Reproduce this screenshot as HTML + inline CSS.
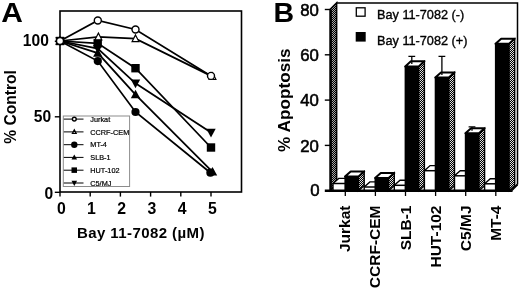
<!DOCTYPE html>
<html><head><meta charset="utf-8"><title>Figure</title>
<style>
html,body{margin:0;padding:0;background:#fff;}
body{width:520px;height:293px;overflow:hidden;}
svg{display:block;font-family:"Liberation Sans",sans-serif;}
.b{font-weight:bold;}
</style></head><body>
<svg width="520" height="293" viewBox="0 0 520 293">
<defs>
<pattern id="dz" width="2" height="2" patternUnits="userSpaceOnUse">
<rect width="2" height="2" fill="#000"/><rect x="0" y="0" width="1" height="1" fill="#e0e0e0"/><rect x="1" y="1" width="1" height="1" fill="#e0e0e0"/>
</pattern>
<pattern id="dw" width="2" height="2" patternUnits="userSpaceOnUse">
<rect width="2" height="2" fill="#000"/><rect x="0" y="0" width="1" height="1" fill="#a8a8a8"/><rect x="1" y="1" width="1" height="1" fill="#a8a8a8"/>
</pattern>
</defs>
<rect width="520" height="293" fill="#fff"/>

<g id="panelA">
<text class="b" transform="translate(1.3,22.2) scale(1.07,1)" font-size="28">A</text>
<rect x="60" y="11" width="181.5" height="181" fill="none" stroke="#000" stroke-width="1.6"/>
<line x1="54.8" x2="60" y1="192.3" y2="192.3" stroke="#000" stroke-width="1.4"/>
<text class="b" x="53.1" y="198.5" font-size="15.6" text-anchor="end">0</text>
<line x1="54.8" x2="60" y1="116.8" y2="116.8" stroke="#000" stroke-width="1.4"/>
<text class="b" x="51.2" y="121.6" font-size="15.6" text-anchor="end">50</text>
<line x1="54.8" x2="60" y1="41.3" y2="41.3" stroke="#000" stroke-width="1.4"/>
<text class="b" x="48.9" y="45.6" font-size="15.6" text-anchor="end">100</text>
<line x1="60.0" x2="60.0" y1="192" y2="196.6" stroke="#000" stroke-width="1.4"/>
<text class="b" x="61.3" y="213.8" font-size="15.8" text-anchor="middle">0</text>
<line x1="90.2" x2="90.2" y1="192" y2="196.6" stroke="#000" stroke-width="1.4"/>
<text class="b" x="91.5" y="213.8" font-size="15.8" text-anchor="middle">1</text>
<line x1="120.4" x2="120.4" y1="192" y2="196.6" stroke="#000" stroke-width="1.4"/>
<text class="b" x="121.7" y="213.8" font-size="15.8" text-anchor="middle">2</text>
<line x1="150.6" x2="150.6" y1="192" y2="196.6" stroke="#000" stroke-width="1.4"/>
<text class="b" x="151.9" y="213.8" font-size="15.8" text-anchor="middle">3</text>
<line x1="180.8" x2="180.8" y1="192" y2="196.6" stroke="#000" stroke-width="1.4"/>
<text class="b" x="182.1" y="213.8" font-size="15.8" text-anchor="middle">4</text>
<line x1="211.0" x2="211.0" y1="192" y2="196.6" stroke="#000" stroke-width="1.4"/>
<text class="b" x="212.3" y="213.8" font-size="15.8" text-anchor="middle">5</text>
<text class="b" x="77" y="237.9" font-size="15" textLength="127.5">Bay 11-7082 (µM)</text>
<text class="b" transform="translate(15.5,107) rotate(-90)" font-size="15.6" text-anchor="middle">% Control</text>
<path d="M60.0 41.0L97.8 20.5L135.5 29.5L211.0 75.9" fill="none" stroke="#000" stroke-width="1.75"/>
<path d="M60.0 41.0L98.4 36.9L135.5 38.7L212.5 76.6" fill="none" stroke="#000" stroke-width="1.75"/>
<path d="M60.0 41.0L97.8 61.1L135.5 112.0L210.4 172.7" fill="none" stroke="#000" stroke-width="1.75"/>
<path d="M60.0 41.0L97.8 53.1L135.5 94.6L212.5 171.8" fill="none" stroke="#000" stroke-width="1.75"/>
<path d="M60.0 41.0L97.8 43.3L135.5 68.2L211.0 147.5" fill="none" stroke="#000" stroke-width="1.75"/>
<path d="M60.0 41.0L97.8 48.6L135.5 83.3L211.0 132.5" fill="none" stroke="#000" stroke-width="1.75"/>
<circle cx="60.0" cy="41.0" r="4.1" fill="#000"/>
<circle cx="97.8" cy="61.1" r="4.1" fill="#000"/>
<circle cx="135.5" cy="112.0" r="4.1" fill="#000"/>
<circle cx="210.4" cy="172.7" r="4.1" fill="#000"/>
<path d="M60.0 36.1L64.7 44.7H55.3Z" fill="#000"/>
<path d="M97.8 48.2L102.4 56.8H93.1Z" fill="#000"/>
<path d="M135.5 89.7L140.2 98.3H130.8Z" fill="#000"/>
<path d="M212.5 166.9L217.2 175.4H207.9Z" fill="#000"/>
<path d="M60.0 45.9L64.7 37.3H55.3Z" fill="#000"/>
<path d="M97.8 53.5L102.4 44.9H93.1Z" fill="#000"/>
<path d="M135.5 88.2L140.2 79.6H130.8Z" fill="#000"/>
<path d="M211.0 137.4L215.7 128.8H206.3Z" fill="#000"/>
<rect x="55.8" y="36.8" width="8.4" height="8.4" fill="#000"/>
<rect x="93.5" y="39.1" width="8.4" height="8.4" fill="#000"/>
<rect x="131.3" y="64.0" width="8.4" height="8.4" fill="#000"/>
<rect x="206.8" y="143.3" width="8.4" height="8.4" fill="#000"/>
<path d="M60.0 37.2L63.4 43.9H56.6Z" fill="#fff" stroke="#000" stroke-width="1.2"/>
<path d="M98.4 33.1L101.8 39.8H94.9Z" fill="#fff" stroke="#000" stroke-width="1.2"/>
<path d="M135.5 34.9L138.9 41.6H132.1Z" fill="#fff" stroke="#000" stroke-width="1.2"/>
<path d="M212.5 72.8L215.9 79.5H209.1Z" fill="#fff" stroke="#000" stroke-width="1.2"/>
<circle cx="60.0" cy="41.0" r="3.5" fill="#fff" stroke="#000" stroke-width="1.4"/>
<circle cx="97.8" cy="20.5" r="3.5" fill="#fff" stroke="#000" stroke-width="1.4"/>
<circle cx="135.5" cy="29.5" r="3.5" fill="#fff" stroke="#000" stroke-width="1.4"/>
<circle cx="211.0" cy="75.9" r="3.5" fill="#fff" stroke="#000" stroke-width="1.4"/>
<rect x="63.3" y="116" width="66.3" height="70.5" fill="#fff" stroke="#8c8c8c" stroke-width="1"/>
<line x1="63.8" x2="83.5" y1="119.1" y2="119.1" stroke="#000" stroke-width="1"/>
<circle cx="74.3" cy="119.1" r="1.9" fill="#fff" stroke="#000" stroke-width="1.4"/>
<text x="90.3" y="121.8" font-size="7.3" stroke="#000" stroke-width="0.2">Jurkat</text>
<line x1="63.8" x2="83.5" y1="131.9" y2="131.9" stroke="#000" stroke-width="1"/>
<path d="M74.3 129.8L76.2 133.4H72.4Z" fill="#fff" stroke="#000" stroke-width="1.2"/>
<text x="90.3" y="134.6" font-size="7.3" stroke="#000" stroke-width="0.2">CCRF-CEM</text>
<line x1="63.8" x2="83.5" y1="144.7" y2="144.7" stroke="#000" stroke-width="1"/>
<circle cx="74.3" cy="144.7" r="3.2" fill="#000"/>
<text x="90.3" y="147.4" font-size="7.3" stroke="#000" stroke-width="0.2">MT-4</text>
<line x1="63.8" x2="83.5" y1="157.4" y2="157.4" stroke="#000" stroke-width="1"/>
<path d="M74.3 154.5L77.1 159.6H71.5Z" fill="#000"/>
<text x="90.3" y="160.1" font-size="7.3" stroke="#000" stroke-width="0.2">SLB-1</text>
<line x1="63.8" x2="83.5" y1="170.2" y2="170.2" stroke="#000" stroke-width="1"/>
<rect x="71.5" y="167.4" width="5.5" height="5.5" fill="#000"/>
<text x="90.3" y="172.9" font-size="7.3" stroke="#000" stroke-width="0.2">HUT-102</text>
<line x1="63.8" x2="83.5" y1="183.0" y2="183.0" stroke="#000" stroke-width="1"/>
<path d="M74.3 185.9L77.1 180.8H71.5Z" fill="#000"/>
<text x="90.3" y="185.7" font-size="7.3" stroke="#000" stroke-width="0.2">C5/MJ</text>
</g>
<g id="panelB">
<text class="b" x="273.5" y="21.6" font-size="28.5">B</text>
<path d="M330.2 9.3L336.6 3V184.5L330.2 190.5Z" fill="url(#dw)" stroke="#000" stroke-width="1.6"/>
<line x1="330.8" x2="330.8" y1="9.5" y2="190" stroke="#000" stroke-width="2.2"/>
<path d="M336.6 3H517.5V184.5" fill="none" stroke="#000" stroke-width="1.5"/>
<path d="M517.5 184.5L511.5 190.5" fill="none" stroke="#000" stroke-width="1.5"/>
<text x="319.6" y="196.4" font-size="16.8" text-anchor="end" stroke="#000" stroke-width="0.55">0</text>
<line x1="324.8" x2="330" y1="145.4" y2="145.4" stroke="#000" stroke-width="1.4"/>
<text x="318.8" y="151.5" font-size="16.8" text-anchor="end" stroke="#000" stroke-width="0.55">20</text>
<line x1="324.8" x2="330" y1="100.1" y2="100.1" stroke="#000" stroke-width="1.4"/>
<text x="318.8" y="106.2" font-size="16.8" text-anchor="end" stroke="#000" stroke-width="0.55">40</text>
<line x1="324.8" x2="330" y1="54.8" y2="54.8" stroke="#000" stroke-width="1.4"/>
<text x="318.8" y="60.9" font-size="16.8" text-anchor="end" stroke="#000" stroke-width="0.55">60</text>
<line x1="324.8" x2="330" y1="9.5" y2="9.5" stroke="#000" stroke-width="1.4"/>
<text x="318.8" y="15.6" font-size="16.8" text-anchor="end" stroke="#000" stroke-width="0.55">80</text>
<text class="b" transform="translate(290,100.2) rotate(-90)" font-size="17.2" text-anchor="middle">% Apoptosis</text>
<rect x="356.3" y="7.8" width="8.8" height="8.4" fill="#fff" stroke="#000" stroke-width="1.3"/>
<rect x="355.7" y="32" width="10" height="9.6" fill="#000"/>
<text x="377" y="19.3" font-size="12.7" stroke="#000" stroke-width="0.35">Bay 11-7082 (-)</text>
<text x="377" y="44.5" font-size="12.7" stroke="#000" stroke-width="0.35">Bay 11-7082 (+)</text>
<path d="M333.0 183.5L338.7 178.4H350.7V185.6L345.0 190.7H333.0Z" fill="#fff" stroke="#000" stroke-width="1.4"/>
<path d="M333.0 183.5H345.0" fill="none" stroke="#000" stroke-width="1.5"/>
<path d="M358.5 176.6L364.2 171.5V185.6L358.5 190.7Z" fill="url(#dz)" stroke="#000" stroke-width="1.4"/>
<path d="M345.0 176.6L350.7 171.5H364.2L358.5 176.6Z" fill="#fff" stroke="#000" stroke-width="2" stroke-linejoin="round"/>
<rect x="344.4" y="176.3" width="14.4" height="14.4" fill="#000"/>
<line x1="345.3" x2="345.3" y1="190.7" y2="196" stroke="#000" stroke-width="1.3"/>
<text class="b" transform="translate(350.3,205.5) rotate(-90)" font-size="15.5" text-anchor="end">Jurkat</text>
<path d="M364.2 187.0L369.9 181.9H380.8V185.6L375.1 190.7H364.2Z" fill="#fff" stroke="#000" stroke-width="1.4"/>
<path d="M364.2 187.0H375.1" fill="none" stroke="#000" stroke-width="1.5"/>
<path d="M388.6 178.0L394.3 172.9V185.6L388.6 190.7Z" fill="url(#dz)" stroke="#000" stroke-width="1.4"/>
<path d="M375.1 178.0L380.8 172.9H394.3L388.6 178.0Z" fill="#fff" stroke="#000" stroke-width="2" stroke-linejoin="round"/>
<rect x="374.5" y="177.7" width="14.4" height="13.0" fill="#000"/>
<line x1="375.4" x2="375.4" y1="190.7" y2="196" stroke="#000" stroke-width="1.3"/>
<text class="b" transform="translate(380.4,205.5) rotate(-90)" font-size="15.5" text-anchor="end">CCRF-CEM</text>
<path d="M394.3 185.3L400.0 180.2H410.9V185.6L405.2 190.7H394.3Z" fill="#fff" stroke="#000" stroke-width="1.4"/>
<path d="M394.3 185.3H405.2" fill="none" stroke="#000" stroke-width="1.5"/>
<path d="M418.7 66.4L424.4 61.3V185.6L418.7 190.7Z" fill="url(#dz)" stroke="#000" stroke-width="1.4"/>
<path d="M405.2 66.4L410.9 61.3H424.4L418.7 66.4Z" fill="#fff" stroke="#000" stroke-width="2" stroke-linejoin="round"/>
<rect x="404.6" y="66.1" width="14.4" height="124.6" fill="#000"/>
<path d="M408.4 56.4H415.2M411.8 56.4V63.9" fill="none" stroke="#000" stroke-width="1.3"/>
<line x1="405.5" x2="405.5" y1="190.7" y2="196" stroke="#000" stroke-width="1.3"/>
<text class="b" transform="translate(410.5,205.5) rotate(-90)" font-size="15.5" text-anchor="end">SLB-1</text>
<path d="M424.4 170.7L430.1 165.6H441.0V185.6L435.3 190.7H424.4Z" fill="#fff" stroke="#000" stroke-width="1.4"/>
<path d="M424.4 170.7H435.3" fill="none" stroke="#000" stroke-width="1.5"/>
<path d="M448.8 77.5L454.5 72.4V185.6L448.8 190.7Z" fill="url(#dz)" stroke="#000" stroke-width="1.4"/>
<path d="M435.3 77.5L441.0 72.4H454.5L448.8 77.5Z" fill="#fff" stroke="#000" stroke-width="2" stroke-linejoin="round"/>
<rect x="434.7" y="77.2" width="14.4" height="113.5" fill="#000"/>
<path d="M438.5 56.3H445.3M441.9 56.3V75.0" fill="none" stroke="#000" stroke-width="1.3"/>
<line x1="435.6" x2="435.6" y1="190.7" y2="196" stroke="#000" stroke-width="1.3"/>
<text class="b" transform="translate(440.6,205.5) rotate(-90)" font-size="15.5" text-anchor="end">HUT-102</text>
<path d="M454.5 175.8L460.2 170.7H471.1V185.6L465.4 190.7H454.5Z" fill="#fff" stroke="#000" stroke-width="1.4"/>
<path d="M454.5 175.8H465.4" fill="none" stroke="#000" stroke-width="1.5"/>
<path d="M478.9 133.3L484.6 128.2V185.6L478.9 190.7Z" fill="url(#dz)" stroke="#000" stroke-width="1.4"/>
<path d="M465.4 133.3L471.1 128.2H484.6L478.9 133.3Z" fill="#fff" stroke="#000" stroke-width="2" stroke-linejoin="round"/>
<rect x="464.8" y="133.0" width="14.4" height="57.7" fill="#000"/>
<path d="M468.6 126.9H475.4M472.0 126.9V130.8" fill="none" stroke="#000" stroke-width="1.3"/>
<line x1="465.7" x2="465.7" y1="190.7" y2="196" stroke="#000" stroke-width="1.3"/>
<text class="b" transform="translate(470.7,205.5) rotate(-90)" font-size="15.5" text-anchor="end">C5/MJ</text>
<path d="M484.6 183.8L490.3 178.7H501.2V185.6L495.5 190.7H484.6Z" fill="#fff" stroke="#000" stroke-width="1.4"/>
<path d="M484.6 183.8H495.5" fill="none" stroke="#000" stroke-width="1.5"/>
<path d="M509.0 43.8L514.7 38.7V185.6L509.0 190.7Z" fill="url(#dz)" stroke="#000" stroke-width="1.4"/>
<path d="M495.5 43.8L501.2 38.7H514.7L509.0 43.8Z" fill="#fff" stroke="#000" stroke-width="2" stroke-linejoin="round"/>
<rect x="494.9" y="43.5" width="14.4" height="147.2" fill="#000"/>
<line x1="495.8" x2="495.8" y1="190.7" y2="196" stroke="#000" stroke-width="1.3"/>
<text class="b" transform="translate(500.8,205.5) rotate(-90)" font-size="15.5" text-anchor="end">MT-4</text>
<line x1="324.8" x2="512.5" y1="190.7" y2="190.7" stroke="#000" stroke-width="2.4"/>
<path d="M511.5 190.7L517.5 184.7V190.7Z" fill="#fff"/>
<path d="M517.5 184.5L511.5 190.7" fill="none" stroke="#000" stroke-width="1.8"/>
</g>
</svg></body></html>
